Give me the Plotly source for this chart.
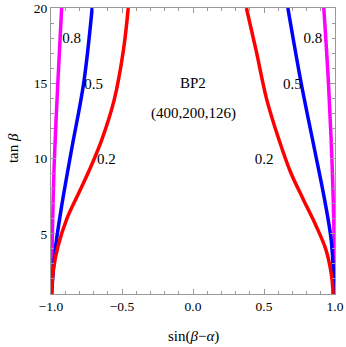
import plotly.graph_objects as go

# --- DATA ---
# left branch, sin(beta-alpha) < 0
red_left_tb = [1, 1.54, 2.65, 4.19, 5.96, 7.74, 9.49, 11.26, 13.9, 17.2, 20]
red_left_x = [-0.995, -0.993, -0.983, -0.95, -0.89, -0.803, -0.718, -0.642, -0.555, -0.49, -0.456]

blue_left_tb = [1, 1.79, 3.97, 6.84, 10.6, 15.0, 20]
blue_left_x = [-0.995, -0.99, -0.97, -0.925, -0.855, -0.77, -0.71]

mag_left_tb = [1, 5.1, 9.5, 15.0, 20]
mag_left_x = [-0.998, -0.99, -0.978, -0.952, -0.925]

# right branch, sin(beta-alpha) > 0
red_right_tb = [1, 1.32, 2.45, 3.97, 5.5, 7.3, 9.07, 11.26, 13.9, 17.2, 20]
red_right_x = [0.985, 0.985, 0.972, 0.935, 0.868, 0.776, 0.688, 0.605, 0.52, 0.444, 0.376]

blue_right_tb = [1, 1.8, 4.6, 7.3, 10.6, 15.0, 20]
blue_right_x = [0.995, 0.992, 0.973, 0.926, 0.856, 0.762, 0.668]

mag_right_tb = [1, 4.0, 9.5, 15.0, 20]
mag_right_x = [1.0, 0.996, 0.98, 0.954, 0.921]

# contour labels
label_text = ['0.8', '0.5', '0.2', '0.8', '0.5', '0.2']
label_x = [-0.855, -0.70, -0.61, 0.844, 0.70, 0.50]
label_y = [17.9, 14.9, 9.9, 17.9, 14.9, 9.9]

x_ticks = [-1.0, -0.5, 0.0, 0.5, 1.0]
x_ticktext = ['\u22121.0', '\u22120.5', '0.0', '0.5', '1.0']
y_ticks = [5, 10, 15, 20]

FONT = 'Liberation Serif'
FRAME = '#999999'

fig = go.Figure()

curves = [
    (mag_left_x, mag_left_tb, '#FF00FF'),
    (mag_right_x, mag_right_tb, '#FF00FF'),
    (blue_left_x, blue_left_tb, '#0000FF'),
    (blue_right_x, blue_right_tb, '#0000FF'),
    (red_left_x, red_left_tb, '#FF0000'),
    (red_right_x, red_right_tb, '#FF0000'),
]
for xs, ys, col in curves:
    fig.add_trace(go.Scatter(x=xs, y=ys, mode='lines', line=dict(color=col, width=3.5, shape='spline', smoothing=1.0),
                             showlegend=False, hoverinfo='skip'))

# contour level labels
fig.add_trace(go.Scatter(x=label_x, y=label_y, mode='text', text=label_text,
                         textfont=dict(family=FONT, size=15, color='black'),
                         showlegend=False, hoverinfo='skip'))

fig.add_annotation(x=0.0, y=15.0, text='BP2', showarrow=False, font=dict(family=FONT, size=15, color='black'))
fig.add_annotation(x=0.0, y=13.0, text='(400,200,126)', showarrow=False, font=dict(family=FONT, size=15, color='black'))

# axis titles
fig.add_annotation(xref='paper', yref='paper', x=0.5, y=-0.147, xanchor='center', yanchor='middle',
                   text='sin(<i>\u03b2</i>\u2212<i>\u03b1</i>)', showarrow=False,
                   font=dict(family=FONT, size=15, color='black'))
fig.add_annotation(xref='paper', yref='paper', x=-0.134, y=0.51, xanchor='center', yanchor='middle',
                   text='tan <i>\u03b2</i>', textangle=-90, showarrow=False,
                   font=dict(family=FONT, size=15, color='black'))

axis_common = dict(
    showgrid=False, zeroline=False, showline=True, linecolor=FRAME, linewidth=1,
    mirror='ticks', ticks='inside', ticklen=5, tickcolor=FRAME, tickwidth=1,
    tickfont=dict(family=FONT, size=13.5, color='black'), automargin=False,
)
fig.update_xaxes(range=[-1, 1], tickvals=x_ticks, ticktext=x_ticktext,
                 minor=dict(ticks='inside', ticklen=3, dtick=0.1, tick0=0, tickcolor=FRAME, showgrid=False),
                 **axis_common)
fig.update_yaxes(range=[1, 20], tickvals=y_ticks,
                 minor=dict(ticks='inside', ticklen=3, dtick=1, tick0=0, tickcolor=FRAME, showgrid=False),
                 **axis_common)

fig.update_layout(
    width=346, height=347,
    margin=dict(l=51, r=11, t=8, b=53),
    plot_bgcolor='white', paper_bgcolor='white',
    font=dict(family=FONT, size=13, color='black'),
)

# drop the browser's default 8px body margin so the figure sits at the page corner
fig.write_html('out.html', config={'displayModeBar': False},
               post_script="document.body.style.margin='0px';")
